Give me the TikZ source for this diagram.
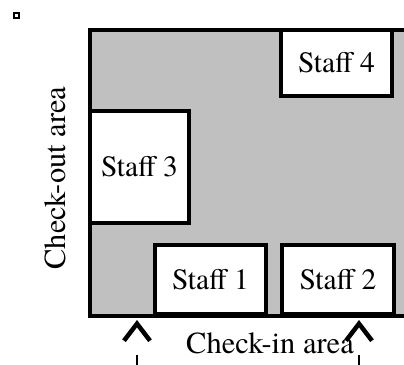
\documentclass[tikz,border=0pt]{standalone}
\usepackage{fontspec}
\setmainfont{TeX Gyre Termes}
\usetikzlibrary{arrows.meta, positioning}
\definecolor{floorgray}{HTML}{C0C0C0}

\begin{document}
\begin{tikzpicture}[x=1pt, y=-1pt,
  staffbox/.style={draw, fill=white, line width=3.5pt, inner sep=0pt, outer sep=0pt,
    font=\fontsize{29.5}{34}\selectfont},
  areatext/.style={font=\fontsize{30.5}{36}\selectfont, anchor=base, inner sep=0pt},
  entry/.style={line width=2.4pt, dash pattern=on 35pt off 300pt,
    -{Straight Barb[length=17pt, width=26pt, line width=4.5pt 0]}}]
  \path[use as bounding box, clip] (0,0) rectangle (404,364);
  \def\xl{90} % left wall
  \def\yt{30} % top wall
  \def\yb{316} % bottom wall

  % floor with walls on three sides
  \fill[floorgray] (\xl,\yt) rectangle (420,\yb);
  \draw[line width=3.5pt] (420,\yt) -- (\xl,\yt) -- (\xl,\yb) -- (420,\yb);

  \node[draw, line width=2pt, minimum size=5pt, inner sep=0pt] (corner) at (16.5,15) {};

  % staff desks
  \node[staffbox, minimum width=111pt, minimum height=66pt] (s4) at (336.5,63) {Staff 4};
  \node[staffbox, minimum width=99pt, minimum height=112pt] (s3) at (139.5,167) {Staff 3};
  \node[staffbox, minimum width=111pt, minimum height=69pt] (s1) at (210.5,279.5) {Staff 1};
  \node[staffbox, minimum width=112pt, minimum height=69pt] (s2) at (338,279.5) {Staff 2};

  % labels
  \node[areatext] (checkin) at (270,353) {Check-in area};
  \node[areatext, rotate=90] (checkout) at (65,178) {Check-out area};

  % entrances
  \coordinate (in1) at (137,320);
  \coordinate (in2) at (359,320);
  \coordinate (from1) at (137,390);
  \coordinate (from2) at (359,390);
  \draw[entry] (from1) -- (in1);
  \draw[entry] (from2) -- (in2);
\end{tikzpicture}
\end{document}
